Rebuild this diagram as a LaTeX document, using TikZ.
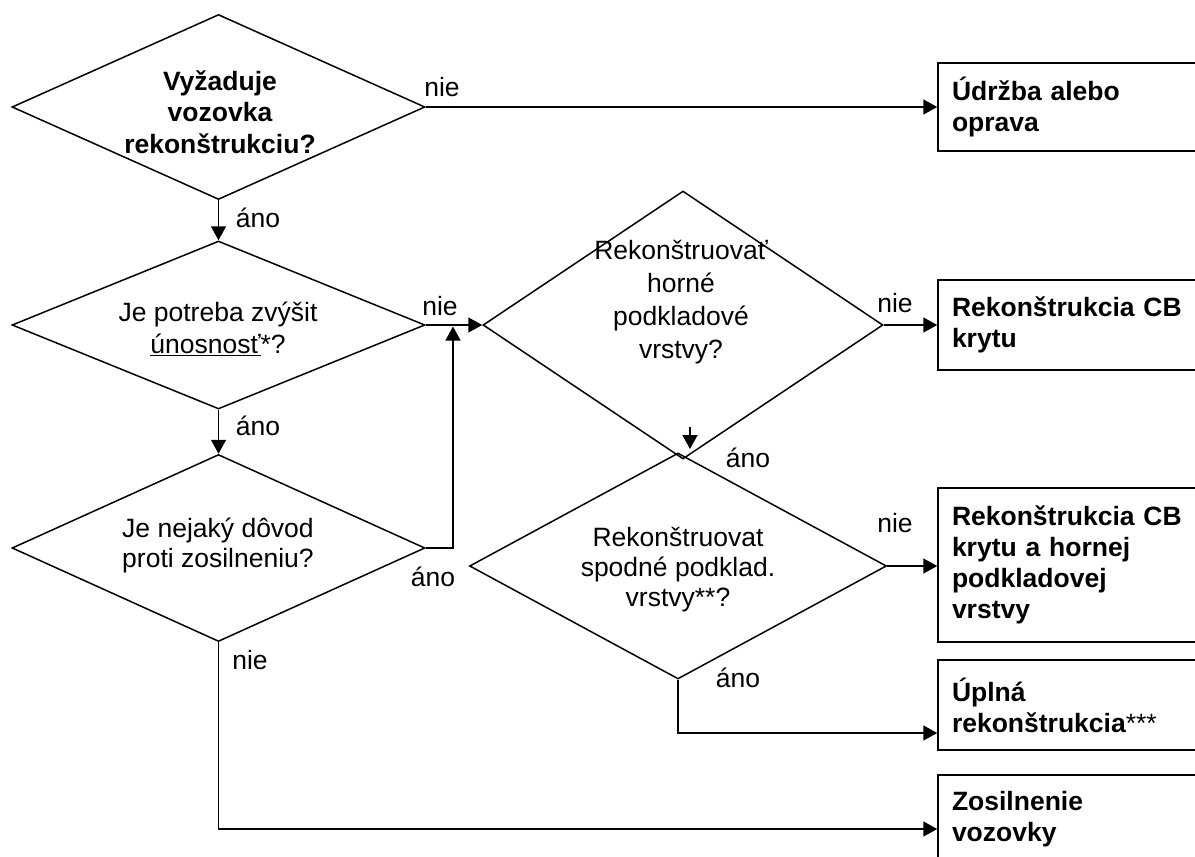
\documentclass[tikz,border=0pt]{standalone}
\usepackage{fontspec}
\setmainfont{Liberation Sans}
\usetikzlibrary{shapes.geometric,arrows.meta}
\begin{document}
\begin{tikzpicture}[x=1pt,y=-1pt,
  line width=1.5pt,
  every node/.style={font=\fontsize{26.5}{32}\selectfont},
  dia/.style={diamond, draw, inner sep=0pt},
  qtext/.style={align=center, inner sep=0pt},
  box/.style={rectangle, draw, minimum width=300pt, text width=272pt, inner xsep=14pt,
    align=left, font=\fontsize{26.5}{31}\selectfont\bfseries},
  lbl/.style={inner sep=0pt},
  arr/.style={-{Triangle[length=14pt,width=15pt]}}
]
\useasboundingbox (0,0) rectangle (1195,857);
\clip (0,0) rectangle (1195,857);

% decision diamonds
\node[dia, minimum width=413pt, minimum height=185pt] (d1) at (218.5,107) {};
\node[dia, minimum width=413pt, minimum height=168pt] (d2) at (218.5,325) {};
\node[dia, minimum width=413pt, minimum height=187pt] (d5) at (218.5,548) {};
\node[dia, minimum width=400pt, minimum height=268pt] (d3) at (683,325) {};
\node[dia, minimum width=417pt, minimum height=226pt] (d4) at (678,566) {};

% texts inside diamonds
\node[qtext, font=\fontsize{26.5}{31.5}\selectfont\bfseries] (t1) at (220,112)
  {Vyžaduje\\vozovka\\rekonštrukciu?};
\node[qtext] (t2) at (218,329) {Je potreba zvýšit\\\underline{únosnosť}*?};
\node[qtext, font=\fontsize{26.5}{30}\selectfont] (t5) at (218,545) {Je nejaký dôvod\\proti zosilneniu?};
\node[qtext, font=\fontsize{26.5}{33}\selectfont] (t3) at (681,302) {Rekonštruovať\\horné\\podkladové\\vrstvy?};
\node[qtext, font=\fontsize{26.5}{30}\selectfont] (t4) at (678,570) {Rekonštruovat\\spodné podklad.\\vrstvy**?};

% result boxes
\node[box, minimum height=88pt] (b1) at (1088,107) {Údržba alebo\\oprava};
\node[box, minimum height=90pt] (b2) at (1088,325) {Rekonštrukcia CB\\krytu};
\node[box, minimum height=154pt] (b3) at (1088,565) {Rekonštrukcia CB\\krytu a hornej\\podkladovej\\vrstvy};
\node[box, minimum height=90pt] (b4) at (1088,705) {Úplná\\rekonštrukcia{\mdseries ***}};
\node[box, minimum height=88pt] (b5) at (1088,819) {Zosilnenie\\vozovky};

% helper coordinates
\coordinate (j) at (453,325);
\coordinate (s1) at (690,427);
\coordinate (s2) at (690,449);

% connectors
\draw[arr] (d1.east) -- (d1.east -| b1.west);
\draw[arr] (d1.south) -- (d2.north);
\draw[arr] (d2.east) -- (d3.west);
\draw[arr] (d2.south) -- (d5.north);
\draw[arr, shorten >=1.5pt] (d5.east) -| (j);
\draw[arr] (d3.east) -- (d3.east -| b2.west);
\draw[arr] (s1) -- (s2);
\draw[arr] (d4.east) -- (d4.east -| b3.west);
\draw[arr] (d4.south) |- ([yshift=-28pt]b4.west);
\draw[arr] (d5.south) |- ([yshift=-10pt]b5.west);

% labels
\node[lbl] (l1) at (442,87) {nie};
\node[lbl] (l2) at (258,218) {áno};
\node[lbl] (l3) at (440,306) {nie};
\node[lbl] (l4) at (258,426) {áno};
\node[lbl] (l5) at (433,577) {áno};
\node[lbl] (l6) at (250,660) {nie};
\node[lbl] (l7) at (895,303) {nie};
\node[lbl] (l8) at (748,458) {áno};
\node[lbl] (l9) at (895,523) {nie};
\node[lbl] (l10) at (738,678) {áno};
\end{tikzpicture}
\end{document}
